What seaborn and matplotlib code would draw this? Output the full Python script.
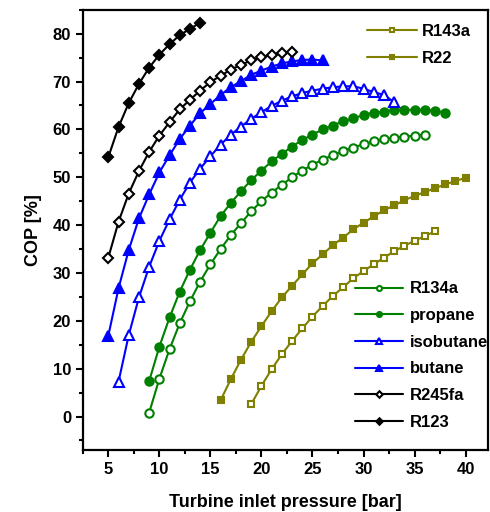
import numpy as np
import pandas as pd
import matplotlib
matplotlib.use("Agg")
import matplotlib.pyplot as plt
from matplotlib.ticker import MultipleLocator
import seaborn as sns

sns.set_style("ticks")
plt.rcParams["font.family"] = ["Liberation Sans", "DejaVu Sans"]
plt.rcParams["font.weight"] = "bold"
for key in ["text.color", "axes.labelcolor", "xtick.color", "ytick.color",
            "axes.edgecolor"]:
    plt.rcParams[key] = "black"

# pressure [bar] and COP [%]
r123_p = list(range(5, 15))
r123_cop = [54.2, 60.5, 65.5, 69.5, 72.9, 75.6, 77.8, 79.7, 81.0, 82.3]

r245fa_p = list(range(5, 24))
r245fa_cop = [33.2, 40.7, 46.6, 51.3, 55.3, 58.7, 61.5, 64.2, 66.2, 68.1,
              69.9, 71.2, 72.5, 73.5, 74.4, 75.1, 75.6, 76.0, 76.2]

butane_p = list(range(5, 27))
butane_cop = [16.9, 26.8, 34.8, 41.4, 46.4, 51.0, 54.6, 58.0, 60.8, 63.4,
              65.3, 67.2, 68.8, 70.1, 71.4, 72.3, 73.1, 73.8, 74.2, 74.5,
              74.6, 74.4]

isobutane_p = list(range(6, 34))
isobutane_cop = [7.3, 17.0, 24.9, 31.3, 36.7, 41.2, 45.3, 48.9, 51.8, 54.4,
                 56.8, 58.9, 60.6, 62.2, 63.6, 64.9, 66.0, 66.9, 67.6, 68.1,
                 68.5, 68.8, 69.0, 69.0, 68.5, 67.8, 67.2, 65.7]

propane_p = list(range(9, 39))
propane_cop = [7.4, 14.6, 20.7, 26.1, 30.7, 34.8, 38.4, 41.9, 44.6, 47.1,
               49.4, 51.4, 53.3, 54.9, 56.4, 57.8, 58.9, 60.0, 60.8, 61.7,
               62.3, 63.0, 63.5, 63.7, 64.1, 64.1, 64.1, 64.1, 63.8, 63.5]

r134a_p = list(range(9, 37))
r134a_cop = [0.8, 7.9, 14.1, 19.5, 24.1, 28.2, 31.8, 35.0, 37.9, 40.4,
             42.9, 45.0, 46.8, 48.4, 50.0, 51.4, 52.6, 53.7, 54.6, 55.5,
             56.2, 56.9, 57.5, 57.9, 58.3, 58.5, 58.7, 58.9]

r22_p = list(range(16, 41))
r22_cop = [3.4, 7.8, 11.9, 15.6, 18.9, 22.0, 24.9, 27.3, 29.7, 32.0,
           33.9, 35.8, 37.4, 39.1, 40.5, 41.8, 43.1, 44.1, 45.2, 46.1,
           46.9, 47.7, 48.5, 49.2, 49.9]

r143a_p = list(range(19, 38))
r143a_cop = [2.6, 6.4, 9.9, 13.0, 15.8, 18.4, 20.9, 23.1, 25.2, 27.0,
             28.9, 30.4, 31.8, 33.2, 34.5, 35.7, 36.7, 37.7, 38.7]

fluids = [
    ("R134a", r134a_p, r134a_cop, "#008000", "o", "white", 6),
    ("propane", propane_p, propane_cop, "#008000", "o", "#008000", 6),
    ("isobutane", isobutane_p, isobutane_cop, "#0000ff", "^", "white", 7),
    ("butane", butane_p, butane_cop, "#0000ff", "^", "#0000ff", 7),
    ("R245fa", r245fa_p, r245fa_cop, "black", "D", "white", 5.5),
    ("R123", r123_p, r123_cop, "black", "D", "black", 5.5),
    ("R143a", r143a_p, r143a_cop, "#808000", "s", "white", 5),
    ("R22", r22_p, r22_cop, "#808000", "s", "#808000", 5),
]

fig, ax = plt.subplots(figsize=(4.9, 5.12), dpi=100)
fig.subplots_adjust(left=0.169, right=0.996, top=0.981, bottom=0.121)

handles = {}
for name, p, cop, color, marker, face, ms in fluids:
    df = pd.DataFrame({"p": p, "cop": cop})
    sns.lineplot(data=df, x="p", y="cop", ax=ax, color=color, marker=marker,
                 markerfacecolor=face, markeredgecolor=color, markersize=ms,
                 markeredgewidth=1.5, linewidth=1.5, label=name)
    handles[name] = ax.get_lines()[-1]

ax.set_xlim(2.5, 42.2)
ax.set_ylim(-7, 85)
ax.xaxis.set_major_locator(MultipleLocator(5))
ax.xaxis.set_minor_locator(MultipleLocator(2.5))
ax.yaxis.set_major_locator(MultipleLocator(10))
ax.yaxis.set_minor_locator(MultipleLocator(5))
ax.set_yticks(range(0, 81, 10))
ax.tick_params(which="major", direction="out", length=5, width=1.5,
               labelsize=12, colors="black")
ax.tick_params(which="minor", direction="out", length=3, width=1.5,
               colors="black")
for lab in ax.get_xticklabels() + ax.get_yticklabels():
    lab.set_fontweight("bold")
for s in ax.spines.values():
    s.set_linewidth(1.6)
    s.set_color("black")

ax.set_xlabel("Turbine inlet pressure [bar]", fontsize=13, fontweight="bold",
              labelpad=12)
ax.set_ylabel("COP [%]", fontsize=13, fontweight="bold", labelpad=8)

top_names = ["R143a", "R22"]
low_names = ["R134a", "propane", "isobutane", "butane", "R245fa", "R123"]

leg_top = ax.legend([handles[n] for n in top_names], top_names,
                    loc="upper left", bbox_to_anchor=(0.701, 0.967),
                    frameon=False, handlelength=3.0, markerscale=0.6,
                    prop={"size": 12, "weight": "bold"}, labelspacing=0.72,
                    handletextpad=0.3, borderpad=0, borderaxespad=0)
ax.add_artist(leg_top)
ax.legend([handles[n] for n in low_names], low_names,
          loc="upper left", bbox_to_anchor=(0.672, 0.383),
          frameon=False, handlelength=2.9, markerscale=0.6,
          prop={"size": 12, "weight": "bold"}, labelspacing=0.7,
          handletextpad=0.36, borderpad=0, borderaxespad=0)

fig.savefig("out.png", dpi=100)
